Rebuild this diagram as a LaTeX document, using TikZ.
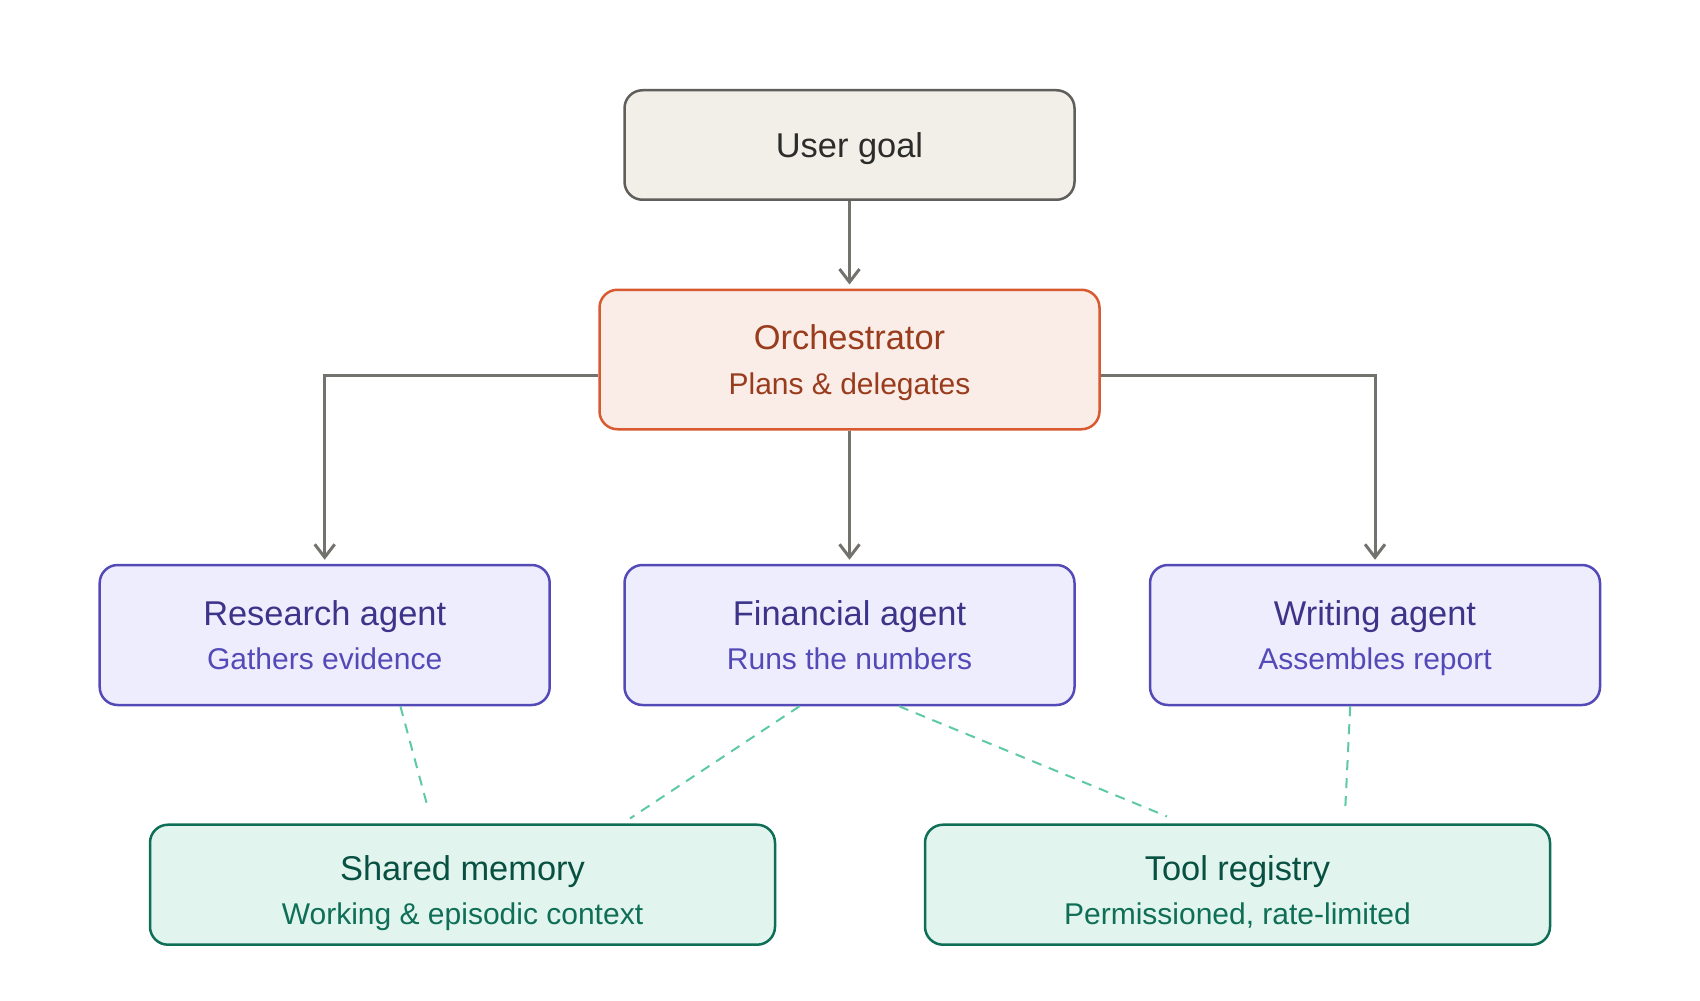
\documentclass[tikz,border=0pt]{standalone}
\usepackage{fontspec}
\setmainfont{Liberation Sans}
\usetikzlibrary{arrows.meta,calc}
\definecolor{goalfill}{HTML}{F1EFE8}
\definecolor{goalline}{HTML}{5F5E5A}
\definecolor{goaltext}{HTML}{2C2C2A}
\definecolor{orchfill}{HTML}{FAECE7}
\definecolor{orchline}{HTML}{D85A30}
\definecolor{orchtext}{HTML}{993C1D}
\definecolor{agfill}{HTML}{EEEDFE}
\definecolor{agline}{HTML}{534AB7}
\definecolor{agtitle}{HTML}{3C3489}
\definecolor{agsub}{HTML}{534AB7}
\definecolor{grfill}{HTML}{E1F5EE}
\definecolor{grline}{HTML}{0F6E56}
\definecolor{grtitle}{HTML}{085041}
\definecolor{grsub}{HTML}{0F6E56}
\definecolor{arrowgray}{HTML}{73726C}
\definecolor{dashgreen}{HTML}{5DCAA5}
\begin{document}
\begin{tikzpicture}[x=0.5pt,y=-0.5pt,
  box/.style={rounded corners=9pt, line width=1.25pt, inner sep=0pt},
  titletext/.style={anchor=base, font=\fontsize{17.2}{20}\selectfont},
  subtext/.style={anchor=base, font=\fontsize{15}{18}\selectfont},
  flow/.style={draw=arrowgray, line width=1.5pt, -{Straight Barb[length=6.5pt,width=10pt,line width=1.5pt]}},
  link/.style={draw=dashgreen, line width=1pt, dash pattern=on 5pt off 4pt},
]
\useasboundingbox[fill=white] (0,0) rectangle (1700,1000);

% boxes
\node[box, fill=goalfill, draw=goalline, minimum width=225pt, minimum height=54.75pt] (goal) at (849.5,145) {};
\node[box, fill=orchfill, draw=orchline, minimum width=250pt, minimum height=69.75pt] (orch) at (849.5,359.5) {};
\node[box, fill=agfill, draw=agline, minimum width=225pt, minimum height=70pt] (research) at (324.7,635) {};
\node[box, fill=agfill, draw=agline, minimum width=225pt, minimum height=70pt] (financial) at (849.5,635) {};
\node[box, fill=agfill, draw=agline, minimum width=225pt, minimum height=70pt] (writing) at (1375,635) {};
\node[box, fill=grfill, draw=grline, minimum width=312.5pt, minimum height=60pt] (memory) at (462.5,884.7) {};
\node[box, fill=grfill, draw=grline, minimum width=312.5pt, minimum height=60pt] (tool) at (1237.5,884.7) {};

% texts
\node[titletext, text=goaltext] (goalt) at ($(goal)+(0,12.3)$) {User goal};
\node[titletext, text=orchtext] (orcht) at ($(orch)+(0,-10.2)$) {Orchestrator};
\node[subtext, text=orchtext] (orchs) at ($(orch)+(0,34.8)$) {Plans \& delegates};
\node[titletext, text=agtitle] (researcht) at ($(research)+(0,-10)$) {Research agent};
\node[subtext, text=agsub] (researchs) at ($(research)+(0,34.3)$) {Gathers evidence};
\node[titletext, text=agtitle] (financialt) at ($(financial)+(0,-10)$) {Financial agent};
\node[subtext, text=agsub] (financials) at ($(financial)+(0,34.3)$) {Runs the numbers};
\node[titletext, text=agtitle] (writingt) at ($(writing)+(0,-10)$) {Writing agent};
\node[subtext, text=agsub] (writings) at ($(writing)+(0,34.3)$) {Assembles report};
\node[titletext, text=grtitle] (memoryt) at ($(memory)+(0,-4.7)$) {Shared memory};
\node[subtext, text=grsub] (memorys) at ($(memory)+(0,39.6)$) {Working \& episodic context};
\node[titletext, text=grtitle] (toolt) at ($(tool)+(0,-4.7)$) {Tool registry};
\node[subtext, text=grsub] (tools) at ($(tool)+(0,39.6)$) {Permissioned, rate-limited};

% flow arrows
\draw[flow] (goal.south) -- ([yshift=2pt]orch.north);
\draw[flow] (orch.south) -- ([yshift=2pt]financial.north);
\draw[flow] ([yshift=-7.75pt]orch.west) -| ([yshift=2pt]research.north);
\draw[flow] ([yshift=-7.75pt]orch.east) -| ([yshift=2pt]writing.north);

% dashed links
\draw[link] ([xshift=37.85pt]research.south) -- ([xshift=-17pt,yshift=6.65pt]memory.north);
\draw[link] ([xshift=-25pt]financial.south) -- ([xshift=83.75pt,yshift=2.5pt]memory.north);
\draw[link] ([xshift=24.75pt]financial.south) -- ([xshift=-35.25pt,yshift=3.5pt]tool.north);
\draw[link] ([xshift=-12.4pt]writing.south) -- ([xshift=53.75pt,yshift=5pt]tool.north);
\end{tikzpicture}
\end{document}
